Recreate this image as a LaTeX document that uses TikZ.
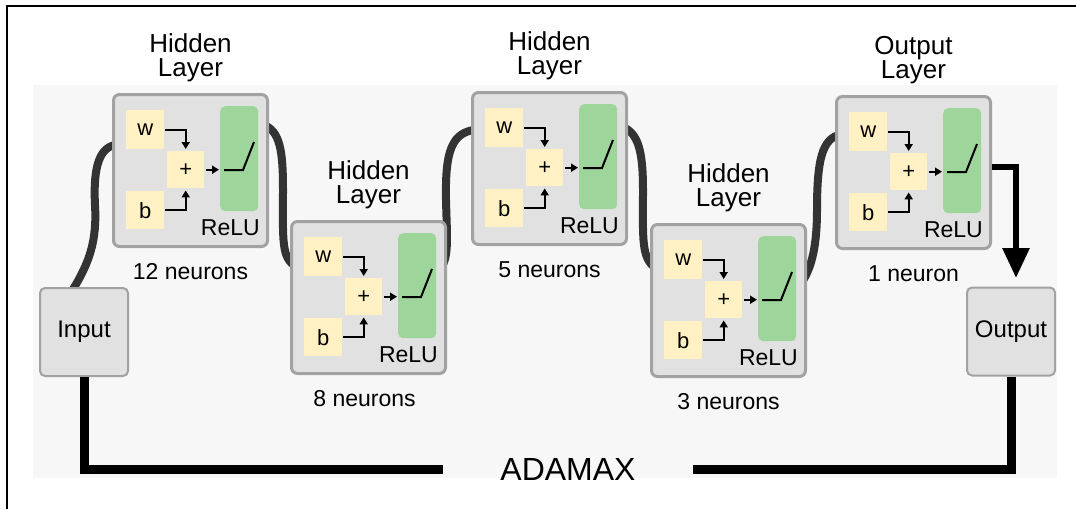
\documentclass[tikz,border=0pt]{standalone}
\usepackage{fontspec}
\setmainfont{Liberation Sans}
\usetikzlibrary{arrows.meta,calc}
\pgfdeclarelayer{bglayer}
\pgfsetlayers{bglayer,main}
\definecolor{boxfill}{HTML}{E1E1E1}
\definecolor{boxline}{HTML}{A2A2A2}
\definecolor{ylw}{HTML}{FFF1C3}
\definecolor{grn}{HTML}{9ED59B}
\definecolor{wirec}{HTML}{333333}
\definecolor{bgc}{HTML}{F7F7F7}
\tikzset{
  layerbox/.style={draw=boxline, line width=3pt, fill=boxfill, rounded corners=6pt,
    minimum width=154pt, minimum height=152pt, anchor=north west, inner sep=0pt},
  ybox/.style={fill=ylw, anchor=north west, inner sep=0pt, font=\fontsize{22}{22}\selectfont},
  gbox/.style={fill=grn, rounded corners=5pt, anchor=north west,
    minimum width=38pt, minimum height=105pt, inner sep=0pt},
  smallarr/.style={-{Triangle[width=8pt,length=7pt]}, line width=1.8pt},
  titletext/.style={align=center, font=\fontsize{26}{24}\selectfont, inner sep=0pt},
  neurtext/.style={font=\fontsize{23}{23}\selectfont, inner sep=0pt},
  relutext/.style={font=\fontsize{23}{23}\selectfont, inner sep=0pt, anchor=east},
  iobox/.style={draw=boxline, line width=2pt, fill=boxfill, rounded corners=5pt,
    minimum width=88pt, minimum height=88pt, inner sep=0pt, font=\fontsize{24}{24}\selectfont},
  wire/.style={draw=wirec, line width=8pt},
  baseln/.style={draw=black, line width=9pt, line join=miter},
  outarrow/.style={draw=black, line width=6pt, line join=miter,
    -{Triangle[width=26pt,length=30pt]}},
}
\newcommand\mklayer[6]{%
  \node[layerbox] (#1) at (#2,#3) {};
  \begin{scope}[shift={(#2,#3)}]
    \node[ybox, minimum width=38pt, minimum height=39pt] (#1w) at (14,17) {w};
    \node[ybox, minimum width=37pt, minimum height=37pt] (#1p) at (55,58) {+};
    \node[ybox, minimum width=38pt, minimum height=38pt] (#1b) at (14,98) {b};
    \node[gbox] (#1g) at (108,13) {};
    \node[relutext] (#1r) at (148,135) {ReLU};
    \draw[smallarr, shorten <=1pt, shorten >=2pt] (#1w.east) -| (#1p.north);
    \draw[smallarr, shorten <=1pt, shorten >=2pt] (#1b.east) -| (#1p.south);
    \draw[smallarr, shorten <=2pt, shorten >=1pt] (#1p.east) -- (#1p.east -| #1g.west);
    \draw[line width=2pt] (112,77) -- (131,77) -- (142,49);
  \end{scope}
  \node[titletext] (#1t) at ($(#1.north)+(0,-35)$) {#4};
  \node[neurtext] (#1n) at ($(#1.south)+(#6,24)$) {#5};
}
\begin{document}
\begin{tikzpicture}[x=1pt, y=-1pt]
\useasboundingbox (0,0) rectangle (1076,509);
\begin{pgfonlayer}{bglayer}
\fill[white] (0,0) rectangle (1076,509);
\fill[bgc] (33,85) rectangle (1057,478);
\end{pgfonlayer}
\draw[line width=1.5pt] (7,509) -- (7,6) -- (1076,6);

\mklayer{L1}{112}{93}{Hidden\\Layer}{12 neurons}{0}
\mklayer{L2}{290}{220}{Hidden\\Layer}{8 neurons}{-4}
\mklayer{L3}{471}{91}{Hidden\\Layer}{5 neurons}{0}
\mklayer{L4}{650}{223}{Hidden\\Layer}{3 neurons}{0}
\mklayer{L5}{835}{95}{Output\\Layer}{1 neuron}{0}

\node[iobox] (in) at (84,332) {Input};
\node[iobox] (out) at (1011,331.5) {Output};
\node[font=\fontsize{32}{32}\selectfont, inner sep=0pt, minimum width=250pt] (adam) at (568,469) {ADAMAX};

\begin{pgfonlayer}{bglayer}
\draw[wire] ($(in.105)+(0,4)$) .. controls (90,262) and (97,240) .. (95,205)
  .. controls (93,165) and (100,146) .. ($(L1.west)+(6,-26)$);
\draw[wire] ($(L1.east)+(-6,-46)$) .. controls (280,131) and (283,150) .. (283,190)
  .. controls (283,240) and (281,258) .. ($(L2.west)+(6,-31)$);
\draw[wire] ($(L2.east)+(-6,-29)$) .. controls (449,255) and (447,240) .. (446,200)
  .. controls (445,150) and (452,132) .. ($(L3.west)+(6,-39)$);
\draw[wire] ($(L3.east)+(-6,-42)$) .. controls (638,133) and (643,150) .. (643,190)
  .. controls (643,240) and (641,258) .. ($(L4.west)+(6,-32)$);
\draw[wire] ($(L4.east)+(-6,-17)$) .. controls (812,268) and (817,245) .. (817,210)
  .. controls (817,160) and (822,138) .. ($(L5.west)+(6,-38)$);
\end{pgfonlayer}

\coordinate (otip) at (1016,278);
\draw[outarrow] ($(L5.east)+(0,-6)$) -| (otip);

\draw[baseln] (in.south) |- (adam.west);
\draw[baseln] (out.south) |- (adam.east);
\end{tikzpicture}
\end{document}
